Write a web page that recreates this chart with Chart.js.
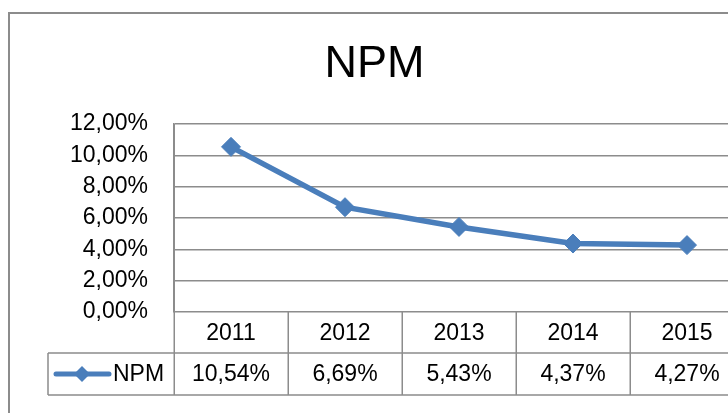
<!DOCTYPE html>
<html>
<head>
<meta charset="utf-8">
<script src="https://cdn.jsdelivr.net/npm/chart.js@4"></script>
<style>
  html, body { margin: 0; padding: 0; background: #fff; overflow: hidden; width: 728px; height: 413px; }
  #wrap { width: 760px; height: 413px; }
</style>
</head>
<body>
<div id="wrap"><canvas id="npmChart" width="760" height="413"></canvas></div>
<script>
const years = ['2011', '2012', '2013', '2014', '2015'];
const npmValues = [10.54, 6.69, 5.43, 4.37, 4.27];
const yTicks = [0, 2, 4, 6, 8, 10, 12];
const seriesName = 'NPM';

const FONT = '"Liberation Sans", Arial, sans-serif';
const LINE_COLOR = '#4a7ebb';
const GRID_COLOR = '#8c8c8c';

function pct(v, digits) {
    return v.toFixed(digits).replace('.', ',') + '%';
}

// title, outer frame and the data table under the plot
const tablePlugin = {
    id: 'dataTable',
    afterDraw(chart) {
        const ctx = chart.ctx;
        const xs = chart.scales.x;
        const area = chart.chartArea;
        const colW = (area.right - area.left) / years.length;
        const row1 = area.bottom;
        const row2 = row1 + 41;
        const row3 = row2 + 42;
        const legendLeft = 48;

        ctx.save();
        // outer frame
        ctx.strokeStyle = GRID_COLOR;
        ctx.lineWidth = 2;
        ctx.beginPath();
        ctx.moveTo(9, 413);
        ctx.lineTo(9, 13);
        ctx.lineTo(chart.width, 13);
        ctx.stroke();

        // title
        ctx.fillStyle = '#000';
        ctx.font = '45px ' + FONT;
        ctx.textAlign = 'center';
        ctx.textBaseline = 'alphabetic';
        ctx.fillText(seriesName, 374.5, 77);

        // table grid
        ctx.lineWidth = 1.5;
        ctx.strokeStyle = GRID_COLOR;
        ctx.beginPath();
        for (let i = 0; i <= years.length; i++) {
            const x = Math.round(area.left + i * colW) + 0.25;
            ctx.moveTo(x, i === 0 ? area.top : row1);
            ctx.lineTo(x, row3);
        }
        ctx.moveTo(legendLeft, row2);
        ctx.lineTo(chart.width, row2);
        ctx.moveTo(legendLeft, row3);
        ctx.lineTo(chart.width, row3);
        ctx.moveTo(legendLeft, row2);
        ctx.lineTo(legendLeft, row3);
        ctx.stroke();

        // table text
        ctx.font = '23px ' + FONT;
        ctx.textBaseline = 'middle';
        ctx.textAlign = 'center';
        years.forEach((y, i) => {
            const cx = xs.getPixelForValue(i);
            ctx.fillText(y, cx, (row1 + row2) / 2 + 1);
            ctx.fillText(pct(npmValues[i], 2), cx, (row2 + row3) / 2 + 1);
        });

        // legend key
        const ly = (row2 + row3) / 2;
        ctx.strokeStyle = LINE_COLOR;
        ctx.lineWidth = 5;
        ctx.lineCap = 'round';
        ctx.beginPath();
        ctx.moveTo(56, ly);
        ctx.lineTo(109, ly);
        ctx.stroke();
        ctx.fillStyle = LINE_COLOR;
        ctx.beginPath();
        ctx.moveTo(82, ly - 8);
        ctx.lineTo(90, ly);
        ctx.lineTo(82, ly + 8);
        ctx.lineTo(74, ly);
        ctx.closePath();
        ctx.fill();
        ctx.fillStyle = '#000';
        ctx.textAlign = 'left';
        ctx.fillText(seriesName, 113, ly + 1);
        ctx.restore();
    }
};

new Chart(document.getElementById('npmChart'), {
    type: 'line',
    data: {
        labels: years,
        datasets: [{
            label: seriesName,
            data: npmValues,
            borderColor: LINE_COLOR,
            backgroundColor: LINE_COLOR,
            borderWidth: 5.5,
            pointStyle: 'rectRot',
            pointRadius: 9.5,
            pointBorderWidth: 1,
            tension: 0
        }]
    },
    options: {
        responsive: false,
        animation: false,
        devicePixelRatio: 1,
        layout: { padding: { top: 124, right: 16, left: 0, bottom: 0 } },
        plugins: {
            legend: { display: false },
            title: { display: false },
            tooltip: { enabled: false }
        },
        scales: {
            x: {
                offset: true,
                grid: { display: false, drawTicks: false },
                border: { display: false },
                ticks: { display: false },
                afterFit(scale) { scale.height = 101; }
            },
            y: {
                min: 0,
                max: 12,
                afterBuildTicks(scale) {
                    scale.ticks = yTicks.map(v => ({ value: v }));
                },
                grid: { color: GRID_COLOR, lineWidth: 1.5, drawTicks: false },
                border: { display: true, color: GRID_COLOR, width: 1.5 },
                ticks: {
                    padding: 26,
                    color: '#000',
                    font: { family: FONT, size: 23 },
                    callback: v => pct(v, 2)
                },
                afterFit(scale) { scale.width = 174; }
            }
        }
    },
    plugins: [tablePlugin]
});
</script>
</body>
</html>
